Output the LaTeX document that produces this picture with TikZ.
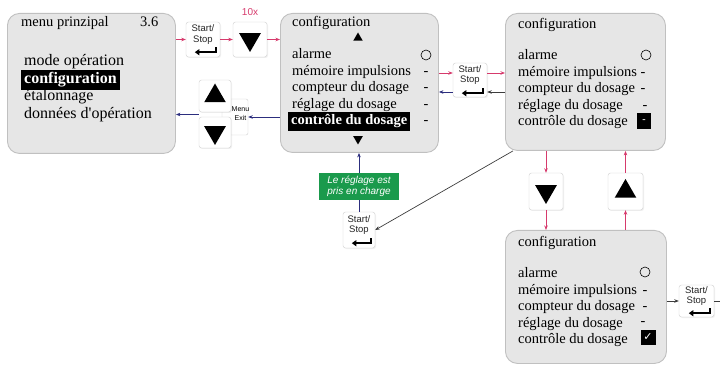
\documentclass[tikz,border=0pt]{standalone}
\usepackage{fontspec}
\setmainfont{Liberation Serif}
\setsansfont{Liberation Sans}
\newfontfamily\symfont{DejaVu Sans}
\usepackage{tikz}
\usetikzlibrary{calc, shapes.geometric, arrows.meta, positioning, shadows}
\definecolor{keyRed}{HTML}{D63A6C}
\definecolor{navyBlue}{HTML}{2C2E7E}
\definecolor{darkGrey}{HTML}{3C3C3C}
\definecolor{screenFill}{HTML}{E6E6E6}
\definecolor{screenLine}{HTML}{C0C0C0}
\definecolor{keyLine}{HTML}{CFCFCF}
\definecolor{noteGreen}{HTML}{1A9A4C}

\begin{document}
\begin{tikzpicture}[
            x=1pt, y=-1pt,
            screen/.style={rectangle, draw=screenLine, fill=screenFill, rounded corners=12pt, line width=0.9pt, anchor=north west, inner sep=0pt},
            keybox/.style={rectangle, draw=keyLine, fill=white, rounded corners=2.5pt, minimum width=34pt, minimum height=35pt, inner sep=0pt, drop shadow={opacity=0.12, shadow xshift=1pt, shadow yshift=-1pt}},
            exitbox/.style={rectangle, draw=keyLine, fill=white, rounded corners=2pt, inner sep=0pt},
            keytri/.style={regular polygon, regular polygon sides=3, fill=black, minimum size=25pt, inner sep=0pt},
            scrtri/.style={regular polygon, regular polygon sides=3, fill=black, minimum size=11pt, inner sep=0pt},
            head/.style={anchor=base west, inner sep=0pt, font=\fontsize{14.5}{16}\selectfont},
            item/.style={anchor=base west, inner sep=0pt, font=\fontsize{14.5}{16}\selectfont},
            bigitem/.style={anchor=base west, inner sep=0pt, font=\fontsize{16}{18}\selectfont},
            sel/.style={fill=black, text=white, inner xsep=3pt, inner ysep=2.5pt},
            flag/.style={anchor=base, inner sep=0pt, font=\fontsize{14.5}{16}\selectfont},
            ring/.style={circle, draw=black, line width=0.6pt, minimum size=10pt, inner sep=0pt},
            keytxt/.style={font=\sffamily\fontsize{9.5}{10.5}\selectfont, align=center, inner sep=0pt, text=black!85},
            retline/.style={line width=1.8pt, -{Triangle[length=4.5pt, width=6pt]}},
            redarrow/.style={-{Stealth[length=4.5pt, width=3.5pt]}, line width=0.7pt, draw=keyRed},
            bluearrow/.style={-{Stealth[length=4.5pt, width=3.5pt]}, line width=0.7pt, draw=navyBlue},
            darkarrow/.style={-{Stealth[length=4.5pt, width=3.5pt]}, line width=0.7pt, draw=darkGrey},
            note/.style={fill=noteGreen, text=white, font=\sffamily\itshape\fontsize{10}{11.5}\selectfont, align=center, minimum width=80pt, minimum height=27pt, inner sep=1pt}
        ]
            \useasboundingbox (0,0) rectangle (720,366);

            % Screens
            \node[screen, minimum width=168pt, minimum height=140pt] (menu) at (7,13) {};
            \node[screen, minimum width=158pt, minimum height=139pt] (confA) at (280,13) {};
            \node[screen, minimum width=160pt, minimum height=137pt] (confB) at (505,13) {};
            \node[screen, minimum width=161pt, minimum height=133pt] (confC) at (505,230) {};

            % Main menu text
            \node[head] (menuTitle) at (21,27) {menu prinzipal};
            \node[head] (menuVer) at (140,27) {3.6};
            \node[bigitem] (menuOp) at (24,66) {mode opération};
            \node[bigitem, sel] (menuCfg) at (21,83.5) {\textbf{configuration}};
            \node[bigitem] (menuCal) at (24,101) {étalonnage};
            \node[bigitem] (menuDat) at (24,119) {données d\textquotesingle opération};

            % Configuration screen 1
            \node[head] (cfgATitle) at (292,27) {configuration};
            \node[scrtri] (cfgAUp) at (358,38) {};
            \node[item] (cfgA1) at (292,59) {alarme};
            \node[item] (cfgA2) at (292,75.5) {mémoire impulsions};
            \node[item] (cfgA3) at (292,92) {compteur du dosage};
            \node[item] (cfgA4) at (292,108.5) {réglage du dosage};
            \node[item, sel] (cfgA5) at (288,125) {\textbf{contrôle du dosage}};
            \node[scrtri, shape border rotate=180] (cfgADn) at (358,139) {};
            \node[ring] (cfgAR1) at (426,55) {};
            \node[flag] (cfgAR2) at (426,75.5) {-};
            \node[flag] (cfgAR3) at (426,92) {-};
            \node[flag] (cfgAR4) at (426,108.5) {-};
            \node[flag] (cfgAR5) at (426,125) {-};

            % Configuration screen 2
            \node[head] (cfgBTitle) at (518,29) {configuration};
            \node[item] (cfgB1) at (518,60) {alarme};
            \node[item] (cfgB2) at (518,76.5) {mémoire impulsions};
            \node[item] (cfgB3) at (518,93) {compteur du dosage};
            \node[item] (cfgB4) at (518,109.5) {réglage du dosage};
            \node[item] (cfgB5) at (518,126) {contrôle du dosage};
            \node[ring] (cfgBR1) at (646,55) {};
            \node[flag] (cfgBR2) at (643,76.5) {-};
            \node[flag] (cfgBR3) at (643,93) {-};
            \node[flag] (cfgBR4) at (645,109.5) {-};
            \node[fill=black, text=white, minimum width=14pt, minimum height=16pt, inner sep=0pt, font=\bfseries\fontsize{10}{10}\selectfont] (cfgBR5) at (644,121.5) {-};

            % Configuration screen 3
            \node[head] (cfgCTitle) at (518,247) {configuration};
            \node[item] (cfgC1) at (518,277) {alarme};
            \node[item] (cfgC2) at (518,294) {mémoire impulsions};
            \node[item] (cfgC3) at (518,310.5) {compteur du dosage};
            \node[item] (cfgC4) at (518,327) {réglage du dosage};
            \node[item] (cfgC5) at (518,343.5) {contrôle du dosage};
            \node[ring] (cfgCR1) at (645,272) {};
            \node[flag] (cfgCR2) at (645,294) {-};
            \node[flag] (cfgCR3) at (645,310.5) {-};
            \node[flag] (cfgCR4) at (643,325) {-};
            \node[fill=black, text=white, minimum size=15pt, inner sep=0pt, font=\symfont\fontsize{11}{11}\selectfont] (cfgCR5) at (648,337.5) {✓};

            % Keys
            \node[keybox] (ssA) at (203,39.5) {};
            \node[keytxt] (ssAt) at ([yshift=5pt]ssA.center) {Start/\\Stop};
            \draw[retline] ([shift={(-4,-10)}]ssA.south east) |- ([shift={(9,-5)}]ssA.south west);
            \node[keybox] (dnA) at (250,39.5) {};
            \node[keytri, shape border rotate=180] (dnAt) at (dnA) {};
            \node[font=\sffamily\fontsize{10}{10}\selectfont, text=keyRed, inner sep=0pt] (tenx) at (250,12) {10x};

            \node[exitbox, minimum width=26pt, minimum height=36pt] (exit) at (235,117) {};
            \node[font=\sffamily\fontsize{7}{9}\selectfont, align=center, inner sep=0pt] (exitt) at (240.5,114) {Menu\\Exit};
            \node[keybox, minimum width=32pt, minimum height=32pt] (upA) at (215,96) {};
            \node[keytri] (upAt) at (upA) {};
            \node[keybox, minimum width=32pt, minimum height=31pt] (dnB) at (215,132.5) {};
            \node[keytri, shape border rotate=180] (dnBt) at (dnB) {};

            \node[keybox, minimum height=34pt] (ssB) at (470,80) {};
            \node[keytxt] (ssBt) at ([yshift=5pt]ssB.center) {Start/\\Stop};
            \draw[retline] ([shift={(-4,-9)}]ssB.south east) |- ([shift={(9,-4)}]ssB.south west);

            \node[keybox, minimum height=37pt] (dnC) at (546,191.5) {};
            \node[keytri, shape border rotate=180] (dnCt) at (dnC) {};
            \node[keybox, minimum width=35pt, minimum height=37pt] (upC) at (625.5,191.5) {};
            \node[keytri] (upCt) at (upC) {};

            \node[keybox, minimum width=35pt, minimum height=32pt] (ssC) at (696.5,301) {};
            \node[keytxt] (ssCt) at ([yshift=5pt]ssC.center) {Start/\\Stop};
            \draw[retline] ([shift={(-4,-9)}]ssC.south east) |- ([shift={(10,-4)}]ssC.south west);

            \node[keybox, minimum width=32pt, minimum height=36pt] (ssD) at (359,230) {};
            \node[keytxt] (ssDt) at ([yshift=5pt]ssD.center) {Start/\\Stop};
            \draw[retline] ([shift={(-4,-10)}]ssD.south east) |- ([shift={(9,-5)}]ssD.south west);

            % Arrows
            \draw[redarrow] (menu.east |- ssA) -- (ssA);
            \draw[redarrow] (ssA) -- (dnA);
            \draw[redarrow] (dnA) -- (dnA -| confA.west);
            \draw[bluearrow] (confA.west |- exit) -- (exit);
            \coordinate (updn) at ($(upA.south west)!0.5!(dnB.north west)$);
            \draw[bluearrow] (updn) -- (updn -| menu.east);
            \draw[redarrow] ([yshift=7pt]ssB.west -| confA.east) -- ([yshift=7pt]ssB.west);
            \draw[redarrow] ([yshift=7pt]ssB.east) -- ([yshift=7pt]ssB.east -| confB.west);
            \draw[darkarrow] ([yshift=-12pt]ssB.east -| confB.west) -- ([yshift=-12pt]ssB.east);
            \draw[bluearrow] ([yshift=-12pt]ssB.west) -- ([yshift=-12pt]ssB.west -| confA.east);
            \draw[redarrow] (confB.south -| dnC) -- (dnC);
            \draw[redarrow] (dnC) -- (dnC |- confC.north);
            \draw[redarrow] (confC.north -| upC) -- (upC);
            \draw[redarrow] (upC) -- (upC |- confB.south);
            \draw[darkarrow] (confC.east |- ssC) -- (ssC);
            \coordinate (out) at (720,301);
            \draw[darkGrey, line width=0.7pt] (ssC.east) -- (out);
            \draw[darkarrow] ([xshift=8pt]confB.south west) -- (ssD.east);
            \draw[bluearrow] (ssD) -- (ssD |- confA.south);
            \node[note] (taken) at (359,186.5) {Le réglage est\\pris en charge};
        \end{tikzpicture}
\end{document}
